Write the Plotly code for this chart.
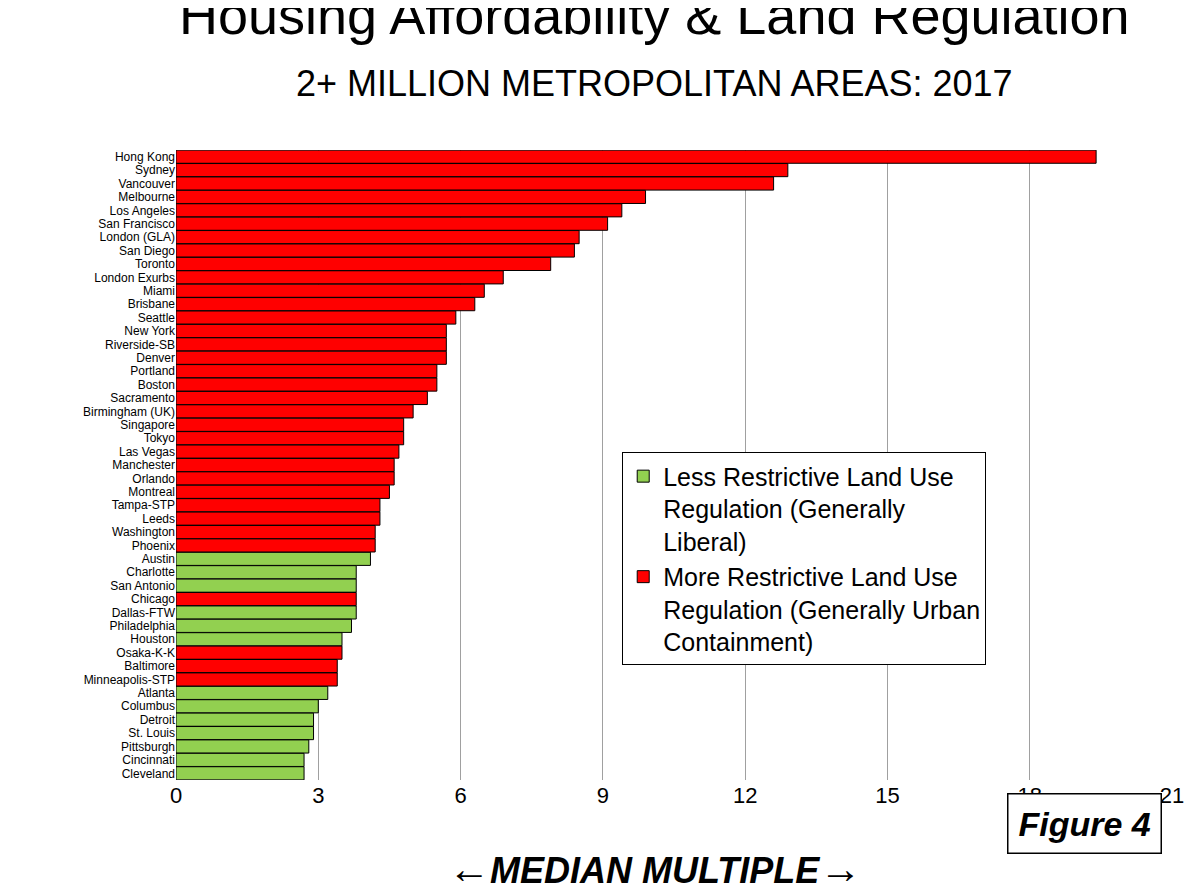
import plotly.graph_objects as go

cities = ["Hong Kong", "Sydney", "Vancouver", "Melbourne", "Los Angeles", "San Francisco",
          "London (GLA)", "San Diego", "Toronto", "London Exurbs", "Miami", "Brisbane",
          "Seattle", "New York", "Riverside-SB", "Denver", "Portland", "Boston", "Sacramento",
          "Birmingham (UK)", "Singapore", "Tokyo", "Las Vegas", "Manchester", "Orlando",
          "Montreal", "Tampa-STP", "Leeds", "Washington", "Phoenix", "Austin", "Charlotte",
          "San Antonio", "Chicago", "Dallas-FTW", "Philadelphia", "Houston", "Osaka-K-K",
          "Baltimore", "Minneapolis-STP", "Atlanta", "Columbus", "Detroit", "St. Louis",
          "Pittsburgh", "Cincinnati", "Cleveland"]
multiple = [19.4, 12.9, 12.6, 9.9, 9.4, 9.1, 8.5, 8.4, 7.9, 6.9, 6.5, 6.3, 5.9, 5.7, 5.7,
            5.7, 5.5, 5.5, 5.3, 5.0, 4.8, 4.8, 4.7, 4.6, 4.6, 4.5, 4.3, 4.3, 4.2, 4.2, 4.1,
            3.8, 3.8, 3.8, 3.8, 3.7, 3.5, 3.5, 3.4, 3.4, 3.2, 3.0, 2.9, 2.9, 2.8, 2.7, 2.7]
liberal = ["Austin", "Charlotte", "San Antonio", "Dallas-FTW", "Philadelphia", "Houston",
           "Atlanta", "Columbus", "Detroit", "St. Louis", "Pittsburgh", "Cincinnati", "Cleveland"]

green_y = [c for c in cities if c in liberal]
green_x = [v for c, v in zip(cities, multiple) if c in liberal]
red_y = [c for c in cities if c not in liberal]
red_x = [v for c, v in zip(cities, multiple) if c not in liberal]

fig = go.Figure()
fig.add_trace(go.Bar(
    x=green_x, y=green_y, orientation="h", marker_color="#92d050",
    marker_line=dict(color="black", width=1),
    name="Less Restrictive Land Use<br>Regulation (Generally<br>Liberal)",
))
fig.add_trace(go.Bar(
    x=red_x, y=red_y, orientation="h", marker_color="#ff0000",
    marker_line=dict(color="black", width=1),
    name="More Restrictive Land Use<br>Regulation (Generally Urban<br>Containment)",
))
fig.update_layout(
    width=1197, height=892,
    template="plotly_white",
    barmode="overlay", bargap=0.02,
    font=dict(family="Liberation Sans, Arial", color="black"),
    margin=dict(l=168, r=33, t=142, b=120),
    plot_bgcolor="white", paper_bgcolor="white",
    legend=dict(
        x=0.448, y=0.52, xanchor="left", yanchor="top",
        bordercolor="black", borderwidth=1, bgcolor="white",
        font=dict(size=25), traceorder="normal", valign="top",
        itemwidth=30, tracegroupgap=0,
    ),
)
fig.update_xaxes(range=[0, 21], tickvals=list(range(0, 22, 3)), showgrid=True,
                 gridcolor="#a0a0a0", gridwidth=1, tickfont=dict(size=22),
                 ticks="", zeroline=False, showline=False)
fig.update_yaxes(categoryorder="array", categoryarray=cities[::-1], autorange=True,
                 tickmode="array", tickvals=cities, ticktext=cities,
                 tickfont=dict(size=12), showgrid=False, ticks="")
fig.add_annotation(text="Housing Affordability & Land Regulation", x=0.48, y=892 - 12,
                   xref="paper", yref="paper", showarrow=False, font=dict(size=54))
fig.layout.annotations[0].update(y=1.215, yanchor="middle")
fig.add_annotation(text="2+ MILLION METROPOLITAN AREAS: 2017", x=0.48, y=1.105,
                   xref="paper", yref="paper", showarrow=False, font=dict(size=36),
                   yanchor="middle")
fig.add_annotation(text="<b><i><span style='font-size:42px'>←</span>MEDIAN MULTIPLE<span style='font-size:42px'>→</span></i></b>",
                   x=0.48, y=-0.1, xref="paper",
                   yref="paper", showarrow=False, font=dict(size=36), xanchor="center",
                   yanchor="top")
fig.add_annotation(text="<b><i>Figure 4</i></b>", x=0.99, y=-0.02, xref="paper",
                   yref="paper", showarrow=False, font=dict(size=34), xanchor="right",
                   yanchor="top", bordercolor="black", borderwidth=1.5, borderpad=10,
                   bgcolor="white")
fig.write_html("out.html")
